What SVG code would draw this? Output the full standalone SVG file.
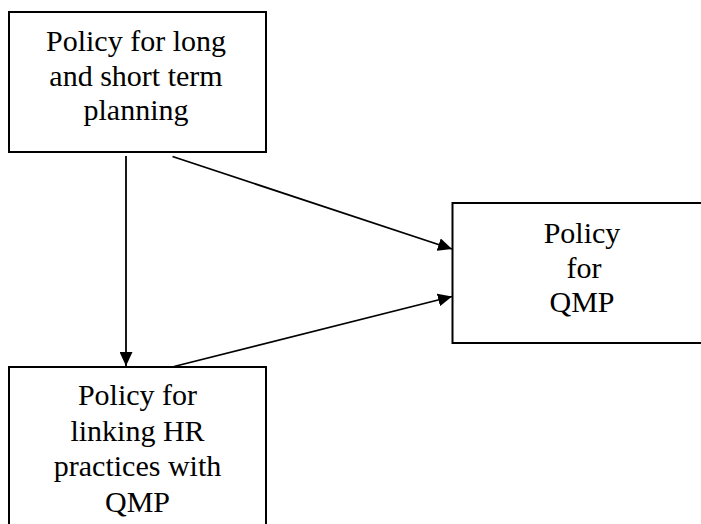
<svg xmlns="http://www.w3.org/2000/svg" width="701" height="524" viewBox="0 0 701 524">
  <style>
    .box { fill: #ffffff; stroke: #000000; stroke-width: 2; }
    .label { font-family: "Liberation Serif", "Times New Roman", serif; font-size: 30px; fill: #000000; text-anchor: middle; }
    .edge { fill: none; stroke: #000000; stroke-width: 1.8; marker-end: url(#arrow); }
  </style>
  <defs>
    <marker id="arrow" markerUnits="userSpaceOnUse" markerWidth="15" markerHeight="13" refX="14" refY="6.5" orient="auto">
      <path d="M0,0 L14,6.5 L0,13 z" fill="#000000"/>
    </marker>
  </defs>
  <rect width="701" height="524" fill="#ffffff"/>

  <g id="connectors">
    <line class="edge" x1="126" y1="156" x2="126" y2="366"/>
    <line class="edge" x1="172.5" y1="156.5" x2="452" y2="249"/>
    <line class="edge" x1="174" y1="366.5" x2="452" y2="296.5"/>
  </g>

  <g id="node-planning">
    <rect class="box" x="9" y="12" width="257" height="140"/>
    <text class="label" x="136" y="51">Policy for long</text>
    <text class="label" x="136" y="85.5">and short term</text>
    <text class="label" x="136" y="119.5">planning</text>
  </g>

  <g id="node-qmp">
    <rect class="box" x="452.5" y="203" width="252" height="140"/>
    <text class="label" x="582" y="243">Policy</text>
    <text class="label" x="584" y="277.5">for</text>
    <text class="label" x="582" y="312">QMP</text>
  </g>

  <g id="node-hr">
    <rect class="box" x="9" y="367" width="257" height="170"/>
    <text class="label" x="137.5" y="405">Policy for</text>
    <text class="label" x="137.5" y="440.5">linking HR</text>
    <text class="label" x="137.5" y="476">practices with</text>
    <text class="label" x="137.5" y="511.5">QMP</text>
  </g>
</svg>
